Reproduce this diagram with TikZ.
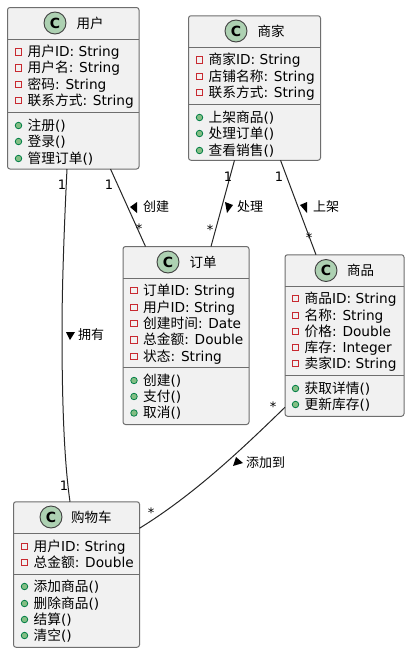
\documentclass[tikz,border=0pt]{standalone}
\usepackage{fontspec}
\setmainfont{DejaVu Sans}
\newfontfamily\cjk{Noto Sans CJK SC}
\newcommand{\Z}[1]{{\cjk #1}}
\definecolor{boxfill}{HTML}{F1F1F1}
\definecolor{boxline}{HTML}{6E6E6E}
\definecolor{spotfill}{HTML}{ADD1B2}
\definecolor{privline}{HTML}{C82930}
\definecolor{pubfill}{HTML}{84BE84}
\definecolor{publine}{HTML}{038048}
\tikzset{
  classbox/.style={draw=boxline,fill=boxfill,line width=1pt,rounded corners=2.5pt,minimum width=0pt,inner sep=0pt,outer sep=0pt},
  divider/.style={draw=boxline,line width=1pt},
  spot/.style={circle,draw=black!75,fill=spotfill,line width=0.9pt,minimum size=22pt,inner sep=0pt,outer sep=0pt,font=\fontsize{14}{14}\selectfont\bfseries},
  cname/.style={anchor=west,inner sep=0pt,font=\fontsize{13.5}{14}\selectfont},
  member/.style={anchor=base west,inner sep=0pt,font=\fontsize{13.7}{14}\selectfont},
  privmark/.style={draw=privline,line width=1.25pt,minimum size=6.5pt,inner sep=0pt,outer sep=0pt},
  pubmark/.style={circle,draw=publine,fill=pubfill,line width=0.8pt,minimum size=6.5pt,inner sep=0pt,outer sep=0pt},
  link/.style={draw=black!85,line width=1pt},
  endlabel/.style={inner sep=0pt,font=\fontsize{13}{13}\selectfont},
  linklabel/.style={anchor=west,inner sep=0pt,font=\fontsize{13}{13}\selectfont},
  dirmark/.style={fill=black,draw=none},
}
% \attr{name}{x of mark}{y of baseline}{text}
\newcommand{\attr}[4]{%
  \node[privmark] (#1m) at (#2,#3-4.5) {};
  \node[member] (#1) at (#2+9,#3) {#4};}
\newcommand{\oper}[4]{%
  \node[pubmark] (#1m) at (#2,#3-4.5) {};
  \node[member] (#1) at (#2+9,#3) {#4};}
\begin{document}
\begin{tikzpicture}[x=1pt,y=-1pt]
\useasboundingbox (0,0) rectangle (410,653);
\fill[white] (0,0) rectangle (410,653);

% boxes
\node[classbox,minimum width=131.5pt,minimum height=161.5pt] (user) at (73.25,88.25) {};
\node[classbox,minimum width=132pt,minimum height=144.5pt] (seller) at (254.5,88) {};
\node[classbox,minimum width=126pt,minimum height=178pt] (order) at (186,335.5) {};
\node[classbox,minimum width=119pt,minimum height=161.5pt] (goods) at (344.5,335.5) {};
\node[classbox,minimum width=126pt,minimum height=145.5pt] (cart) at (76.5,574.5) {};

% links
\draw[link] ([xshift=59.5pt]user.south west) .. controls (64,230) and (62,290) .. (62,330) .. controls (62,400) and (64,460) .. ([xshift=56.5pt]cart.north west);
\draw[link] ([xshift=103pt]user.south west) -- ([xshift=22.5pt]order.north west);
\draw[link] ([xshift=46pt]seller.south west) -- ([xshift=88pt]order.north west);
\draw[link] ([xshift=92pt]seller.south west) -- ([xshift=31pt]goods.north west);
\draw[link] ([yshift=9pt]goods.south west) .. controls (243,448) and (195,494) .. ([yshift=119pt]cart.south east);

% link labels
\node[endlabel] (l1) at (62,185) {1};
\node[endlabel] (l2) at (109,185) {1};
\node[endlabel] (l3) at (139,229) {*};
\node[endlabel] (l4) at (228,177) {1};
\node[endlabel] (l5) at (210,230) {*};
\node[endlabel] (l6) at (279,177) {1};
\node[endlabel] (l7) at (309,238) {*};
\node[endlabel] (l8) at (64,486) {1};
\node[endlabel] (l9) at (151,513) {*};
\node[endlabel] (l10) at (273,407) {*};
\fill[dirmark] (130,207) -- (137,202) -- (137,213) -- cycle;
\node[linklabel] (t1) at (143,207) {\Z{创建}};
\fill[dirmark] (225,202) -- (233,205) -- (227,213) -- cycle;
\node[linklabel] (t2) at (237,207) {\Z{处理}};
\fill[dirmark] (300,205) -- (307,202) -- (307,213) -- cycle;
\node[linklabel] (t3) at (313,207) {\Z{上架}};
\fill[dirmark] (66,332) -- (75,332) -- (70,340) -- cycle;
\node[linklabel] (t4) at (78,335) {\Z{拥有}};
\fill[dirmark] (233,466) -- (236,457) -- (243,463) -- cycle;
\node[linklabel] (t5) at (246,463) {\Z{添加到}};

% user
\draw[divider] (7.5,39) -- (139,39);
\draw[divider] (7.5,112) -- (139,112);
\node[spot] (us) at (55,23) {C};
\node[cname] (un) at (76.5,23) {\Z{用户}};
\attr{ua}{18.5}{56.5}{\Z{用户}ID: String}
\attr{ub}{18.5}{72.5}{\Z{用户名}: String}
\attr{uc}{18.5}{89}{\Z{密码}: String}
\attr{ud}{18.5}{105}{\Z{联系方式}: String}
\oper{ue}{18.5}{130}{\Z{注册}()}
\oper{uf}{18.5}{146}{\Z{登录}()}
\oper{ug}{18.5}{163}{\Z{管理订单}()}

% seller
\draw[divider] (188.5,47) -- (320.5,47);
\draw[divider] (188.5,104) -- (320.5,104);
\node[spot] (ss) at (236,31) {C};
\node[cname] (sn) at (257.5,31) {\Z{商家}};
\attr{sa}{199.5}{64.5}{\Z{商家}ID: String}
\attr{sb}{199.5}{81}{\Z{店铺名称}: String}
\attr{sc}{199.5}{97}{\Z{联系方式}: String}
\oper{sd}{199.5}{122}{\Z{上架商品}()}
\oper{se}{199.5}{138}{\Z{处理订单}()}
\oper{sf}{199.5}{155}{\Z{查看销售}()}

% order
\draw[divider] (123,278) -- (249,278);
\draw[divider] (123,367) -- (249,367);
\node[spot] (os) at (168,262) {C};
\node[cname] (on) at (189.5,262) {\Z{订单}};
\attr{oa}{134}{295}{\Z{订单}ID: String}
\attr{ob}{134}{312}{\Z{用户}ID: String}
\attr{oc}{134}{328}{\Z{创建时间}: Date}
\attr{od}{134}{344.5}{\Z{总金额}: Double}
\attr{oe}{134}{361}{\Z{状态}: String}
\oper{of}{134}{385}{\Z{创建}()}
\oper{og}{134}{401}{\Z{支付}()}
\oper{oh}{134}{417.5}{\Z{取消}()}

% goods
\draw[divider] (285,286) -- (404,286);
\draw[divider] (285,375.5) -- (404,375.5);
\node[spot] (gs) at (326,270.5) {C};
\node[cname] (gn) at (347,270.5) {\Z{商品}};
\attr{ga}{295.5}{303}{\Z{商品}ID: String}
\attr{gb}{295.5}{320}{\Z{名称}: String}
\attr{gc}{295.5}{336}{\Z{价格}: Double}
\attr{gd}{295.5}{352}{\Z{库存}: Integer}
\attr{ge}{295.5}{368}{\Z{卖家}ID: String}
\oper{gf}{295.5}{393}{\Z{获取详情}()}
\oper{gg}{295.5}{409}{\Z{更新库存}()}

% cart
\draw[divider] (13.5,533.5) -- (139.5,533.5);
\draw[divider] (13.5,574.5) -- (139.5,574.5);
\node[spot] (cs) at (51,517) {C};
\node[cname] (cn) at (71,517) {\Z{购物车}};
\attr{ca}{24.5}{551}{\Z{用户}ID: String}
\attr{cb}{24.5}{567}{\Z{总金额}: Double}
\oper{cc}{24.5}{591}{\Z{添加商品}()}
\oper{cd}{24.5}{608}{\Z{删除商品}()}
\oper{ce}{24.5}{624}{\Z{结算}()}
\oper{cf}{24.5}{640}{\Z{清空}()}
\end{tikzpicture}
\end{document}
